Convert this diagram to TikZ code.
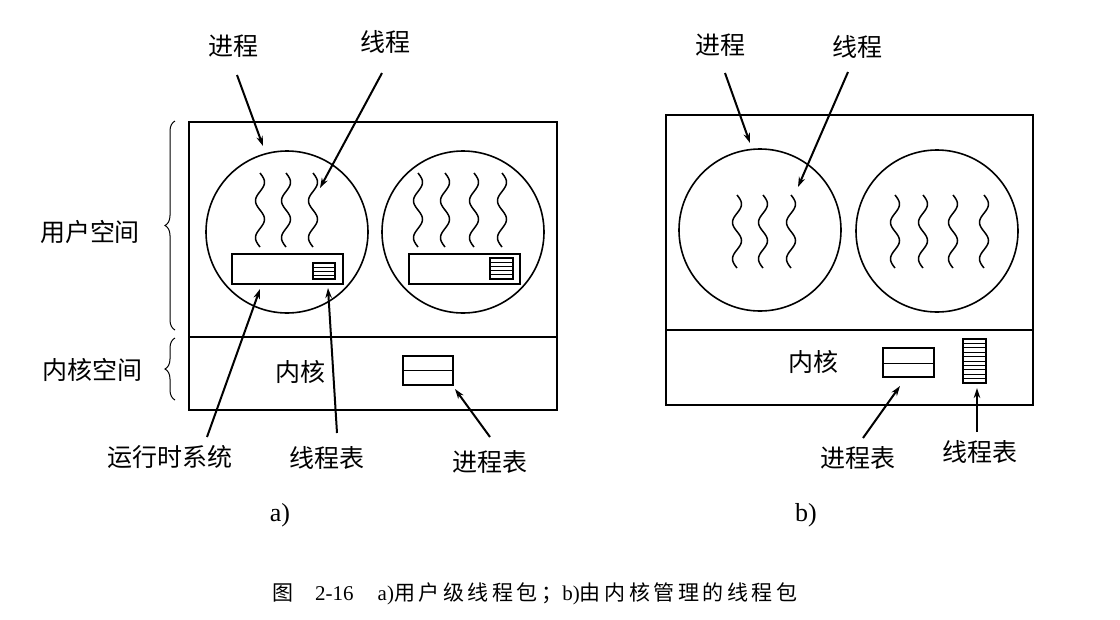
\documentclass[tikz,border=0pt]{standalone}
\usepackage{fontspec}
\setmainfont{Liberation Serif}
\newfontfamily\cjk{Noto Sans CJK SC}
\newfontfamily\cjkcap[LetterSpace=17]{Noto Sans CJK SC}
\usetikzlibrary{positioning,arrows.meta,calc,decorations.pathreplacing}

\begin{document}
\begin{tikzpicture}[x=1pt,y=-1pt,
  lbl/.style={font=\cjk\fontsize{25}{28}\selectfont,inner sep=0pt},
  frame/.style={draw,line width=2pt},
  proc/.style={draw,circle,line width=1.6pt,minimum size=162pt,inner sep=0pt},
  tbl/.style={draw,line width=1.6pt},
  row/.style={line width=1pt},
  thr/.style={line width=1.5pt},
  arr/.style={->,line width=2pt},
  brc/.style={decorate,decoration={brace,amplitude=10pt},line width=1pt},
  >={Stealth[length=10pt,width=6.5pt]}]
\useasboundingbox (0,0) rectangle (1120,619);

% a) user-level threads
\draw[frame] (189,122) rectangle (557,410);
\draw[frame] (189,337) -- (557,337);
\node[proc] (pa1) at (287,232) {};
\node[proc] (pa2) at (463,232) {};
\foreach \x in {260,286,313,418,445,474,502}
  \draw[thr] plot[variable=\t,domain=0:74,samples=60,smooth] ({\x+4.5*sin(\t/74*720)},{173+\t});
\draw[tbl] (232,254) rectangle (343,284);
\draw[tbl] (313,263) rectangle (335,279);
\foreach \y in {267,271,275} \draw[row] (313,\y) -- (335,\y);
\draw[tbl] (409,254) rectangle (520,284);
\draw[tbl] (490,258) rectangle (513,279);
\foreach \y in {262.2,266.4,270.6,274.8} \draw[row] (490,\y) -- (513,\y);
\node[lbl] (ka) at (300,372) {内核};
\draw[tbl] (403,356) rectangle (453,385);
\draw[row] (403,370) -- (453,370);
\draw[brc] (175,330) -- (175,121);
\draw[brc] (175,400) -- (175,338);
\node[lbl] (us) at (90,232) {用户空间};
\node[lbl] (ks) at (92,370) {内核空间};

\node[lbl] (pA) at (233,46) {进程};
\node[lbl] (tA) at (385,42) {线程};
\node[lbl] (rts) at (170,457) {运行时系统};
\node[lbl] (ttA) at (327,458) {线程表};
\node[lbl] (ptA) at (490,462) {进程表};
\coordinate (pAt) at (263,146);
\coordinate (tAt) at (320,188);
\coordinate (rtst) at (260,289);
\coordinate (ttAt) at (328,288);
\coordinate (ptAt) at (455,389);
\draw[arr] ($(pA)+(4,29)$) -- (pAt);
\draw[arr] ($(tA)+(-3,31)$) -- (tAt);
\draw[arr] ($(rts)+(37,-20)$) -- (rtst);
\draw[arr] ($(ttA)+(10,-25)$) -- (ttAt);
\draw[arr] ($(ptA)+(0,-25)$) -- (ptAt);
\node[font=\fontsize{26}{28}\selectfont] (la) at (280,515) {a)};

% b) kernel threads
\draw[frame] (666,115) rectangle (1033,405);
\draw[frame] (666,330) -- (1033,330);
\node[proc] (pb1) at (760,230) {};
\node[proc] (pb2) at (937,231) {};
\foreach \x in {737,763,791,895,923,953,984}
  \draw[thr] plot[variable=\t,domain=0:73,samples=60,smooth] ({\x+4.5*sin(\t/73*720)},{195+\t});
\node[lbl] (kb) at (813,362) {内核};
\draw[tbl] (883,348) rectangle (934,377);
\draw[row] (883,363) -- (934,363);
\draw[tbl] (963,339) rectangle (986,383);
\foreach \i in {1,...,9} \draw[row] (963,{339+4.4*\i}) -- (986,{339+4.4*\i});

\node[lbl] (pB) at (720,45) {进程};
\node[lbl] (tB) at (857,47) {线程};
\node[lbl] (ptB) at (858,458) {进程表};
\node[lbl] (ttB) at (980,452) {线程表};
\coordinate (pBt) at (750,143);
\coordinate (tBt) at (798,187);
\coordinate (ptBt) at (900,386);
\coordinate (ttBt) at (977,388);
\draw[arr] ($(pB)+(5,28)$) -- (pBt);
\draw[arr] ($(tB)+(-9,25)$) -- (tBt);
\draw[arr] ($(ptB)+(5,-20)$) -- (ptBt);
\draw[arr] ($(ttB)+(-3,-20)$) -- (ttBt);
\node[font=\fontsize{26}{28}\selectfont] (lb) at (806,515) {b)};

% caption
\node[anchor=west,inner sep=0pt,font=\fontsize{21}{24}\selectfont] (cap) at (272,594)
  {{\cjkcap 图}\hspace{22pt}2-16\hspace{24pt}a){\cjkcap 用户级线程包；}b){\cjkcap 由内核管理的线程包}};
\end{tikzpicture}
\end{document}
